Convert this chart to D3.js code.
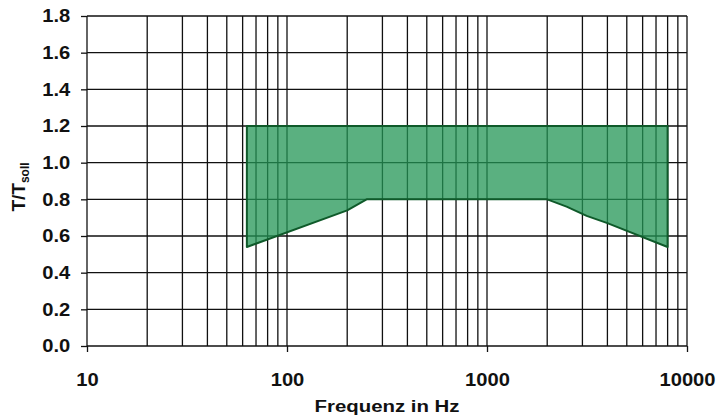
<!DOCTYPE html>
<html lang="de">
<head>
    <meta charset="utf-8">
    <title>Toleranzbereich T/Tsoll</title>
    <style type="text/css">
        body { margin: 0; background: #fff; }
        .chart text { font-family: "Liberation Sans", Arial, sans-serif; font-weight: bold; fill: #111; }
        .chart .grid line { stroke: #111; stroke-width: 1.3; }
        .chart .axis line { stroke: #111; stroke-width: 1.3; }
        .chart .axis path { display: none; }
        .chart .area { fill: rgb(35,150,85); fill-opacity: 0.75; stroke: #0f5a2a; stroke-width: 2; stroke-linejoin: round; }
    </style>
</head>
<body>
   <svg class="chart" width="718" height="419"></svg>

   <script src="https://cdnjs.cloudflare.com/ajax/libs/d3/7.8.5/d3.min.js"></script>
   <script>
        // Daten: Toleranzbereich der Nachhallzeit
        var toleranceFreq = [63, 200, 250, 2000, 2500, 3150, 4000, 8000];
        var toleranceLow  = [0.54, 0.74, 0.8, 0.8, 0.76, 0.71, 0.67, 0.54];
        var toleranceHigh = [1.2, 1.2, 1.2, 1.2, 1.2, 1.2, 1.2, 1.2];

        var xDecades = [10, 100, 1000, 10000];
        var yTicks = [0, 0.2, 0.4, 0.6, 0.8, 1.0, 1.2, 1.4, 1.6, 1.8];

        var svg = d3.select('.chart'),
            width = +svg.attr('width'),
            height = +svg.attr('height'),
            padding = {top: 16, right: 31, bottom: 73, left: 87},
            w = width - padding.left - padding.right,
            h = height - padding.top - padding.bottom;

        var g = svg.append('g')
            .attr('transform', 'translate(' + padding.left + ',' + padding.top + ')');

        // Skalen
        var x = d3.scaleLog().domain([10, 10000]).range([0, w]),
            y = d3.scaleLinear().domain([0, 1.8]).range([h, 0]);

        // alle Gitterlinien 10,20,...,90,100,200,...
        var xGrid = [];
        xDecades.slice(0, 3).forEach(function(d) {
            for (var i = 1; i <= 9; i++) xGrid.push(d * i);
        });
        xGrid.push(10000);

        var data = toleranceFreq.map(function(f, i) {
            return {f: f, lo: toleranceLow[i], hi: toleranceHigh[i]};
        });

        var area = d3.area()
            .x(function(d) { return x(d.f); })
            .y0(function(d) { return y(d.lo); })
            .y1(function(d) { return y(d.hi); });

        // Gitter (unter der Fläche, scheint dunkelgrün durch)
        var grid = g.append('g').attr('class', 'grid');
        grid.selectAll('.vx').data(xGrid).enter().append('line')
            .attr('x1', function(d) { return x(d); })
            .attr('x2', function(d) { return x(d); })
            .attr('y1', 0).attr('y2', h);
        grid.selectAll('.hy').data(yTicks).enter().append('line')
            .attr('x1', 0).attr('x2', w)
            .attr('y1', function(d) { return y(d); })
            .attr('y2', function(d) { return y(d); });

        g.append('path')
            .datum(data)
            .attr('class', 'area')
            .attr('d', area);

        // Achsen
        var xAxis = d3.axisBottom(x)
            .tickValues(xDecades)
            .tickSize(6)
            .tickPadding(21)
            .tickFormat(d3.format('d'));

        var yAxis = d3.axisLeft(y)
            .tickValues(yTicks)
            .tickSize(6)
            .tickPadding(9)
            .tickFormat(d3.format('.1f'));

        g.append('g')
            .attr('class', 'axis axis-x')
            .attr('transform', 'translate(0,' + h + ')')
            .call(xAxis)
            .selectAll('text')
            .attr('font-size', 18)
            .attr('transform', 'scale(1.12,1)');

        g.append('g')
            .attr('class', 'axis axis-y')
            .call(yAxis)
            .selectAll('text')
            .attr('font-size', 18)
            .attr('transform', 'scale(1.12,1)');

        // Achsenbeschriftung
        svg.append('text')
            .attr('text-anchor', 'middle')
            .attr('font-size', 17)
            .attr('transform', 'translate(' + (padding.left + w / 2) + ',412) scale(1.2,1)')
            .text('Frequenz in Hz');

        var yl = svg.append('text')
            .attr('text-anchor', 'middle')
            .attr('font-size', 19)
            .attr('transform', 'translate(25,' + (padding.top + h / 2 + 6) + ') rotate(-90)');
        yl.append('tspan').text('T/T');
        yl.append('tspan').attr('font-size', 12).attr('dy', 4).text('soll');
   </script>
</body>
</html>
